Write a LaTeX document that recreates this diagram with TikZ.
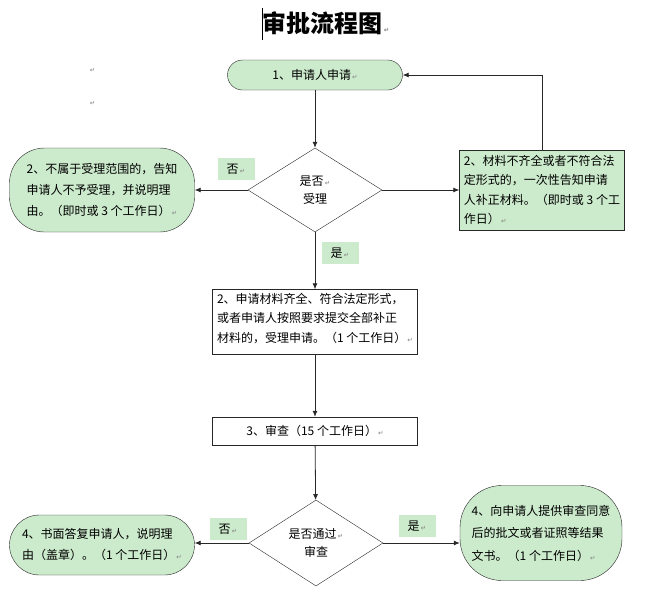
\documentclass[tikz,border=0pt]{standalone}
\usepackage{fontspec}
\setmainfont{Noto Sans CJK SC}
\newfontfamily\markfont{DejaVu Sans}
\usetikzlibrary{shapes.geometric,arrows.meta,positioning}
\definecolor{boxgreen}{RGB}{204,234,204}
\definecolor{linegray}{RGB}{40,40,40}
\newcommand{\pmark}{{\markfont\fontsize{6.5}{6.5}\selectfont\color{gray}\,↵}}
\tikzset{
  pill/.style={draw=linegray, fill=boxgreen, rounded corners=#1, align=left, inner sep=0pt,
    font=\fontsize{12}{21}\selectfont},
  stepbox/.style={draw=linegray, fill=white, align=left, inner sep=0pt,
    font=\fontsize{12}{19.5}\selectfont},
  check/.style={draw=linegray, fill=white, diamond, inner sep=0pt, align=center},
  tag/.style={fill=boxgreen, minimum width=37pt, minimum height=22pt, inner sep=0pt},
  flow/.style={draw=linegray, line width=0.8pt, -{Latex[length=6pt,width=5pt]}}
}

\begin{document}
\begin{tikzpicture}[x=1pt, y=-1pt, font=\fontsize{12}{18}\selectfont]
    \useasboundingbox (0,0) rectangle (649,614);

    % title
    \node (title) at (326,23) {\fontsize{24}{24}\selectfont\bfseries 审批流程图\pmark};
    \draw[line width=1pt] (262,8) -- (262,40);
    \node (m1) at (92,70) {\pmark};
    \node (m2) at (92,103) {\pmark};

    % nodes
    \node[pill=15pt, minimum width=175pt, minimum height=30pt, align=center] (apply) at (315,75) {1、申请人申请\pmark};
    \node[check, minimum width=134pt, minimum height=84pt, aspect=1.6] (accept) at (315,190) {是否\pmark\\受理};
    \node[pill=35pt, minimum width=185pt, minimum height=84pt] (reject) at (102,190)
        {2、不属于受理范围的，告知\\申请人不予受理，并说明理\\由。（即时或 3 个工作日）\pmark};
    \node[stepbox, fill=boxgreen, minimum width=165pt, minimum height=80pt] (supply) at (542,190)
        {2、材料不齐全或者不符合法\\定形式的，一次性告知申请\\人补正材料。（即时或 3 个工\\作日）\pmark};
    \node[stepbox, minimum width=205pt, minimum height=65pt, text depth=9pt] (take) at (315,322)
        {2、申请材料齐全、符合法定形式，\\或者申请人按照要求提交全部补正\\材料的，受理申请。（1 个工作日）\pmark};
    \node[stepbox, minimum width=205pt, minimum height=28pt, align=center] (review) at (315,431) {3、审查（15 个工作日）\pmark};
    \node[check, minimum width=134pt, minimum height=86pt, aspect=1.56] (pass) at (316,543) {是否通过\pmark\\审查};
    \node[pill=30pt, minimum width=185pt, minimum height=60pt] (refuse) at (102,545)
        {4、书面答复申请人，说明理\\由（盖章）。（1 个工作日）\pmark};
    \node[pill=42pt, minimum width=162pt, minimum height=95pt, font=\fontsize{12}{22.5}\selectfont] (grant) at (541,533)
        {4、向申请人提供审查同意\\后的批文或者证照等结果\\文书。（1 个工作日）\pmark};

    % labels
    \node[tag] (no1) at (236,169) {否\pmark};
    \node[tag] (yes1) at (340,253) {是\pmark};
    \node[tag] (no2) at (228,529) {否\pmark};
    \node[tag] (yes2) at (417,526) {是\pmark};

    % connectors
    \draw[flow] (apply) -- (accept);
    \draw[flow] (accept) -- (reject);
    \draw[flow] (accept) -- (supply);
    \draw[flow] (supply.north) |- (apply.east);
    \draw[flow] (accept) -- (take);
    \draw[flow] (take) -- (review);
    \draw[flow] (review) -- (pass);
    \draw[flow] (pass.west) -- (pass.west -| refuse.east);
    \draw[flow] (pass.east) -- (pass.east -| grant.west);
\end{tikzpicture}
\end{document}
